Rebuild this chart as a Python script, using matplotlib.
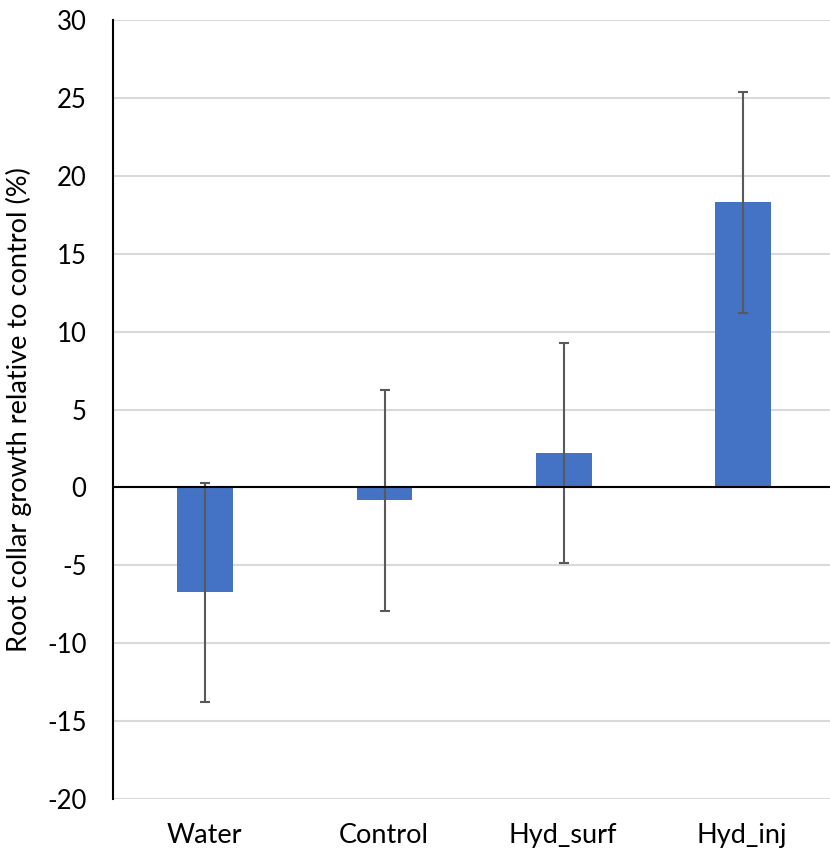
import numpy as np
import matplotlib.pyplot as plt

plt.rcParams['font.family'] = ['Lato', 'DejaVu Sans']
plt.rcParams['axes.unicode_minus'] = False

categories = ['Water', 'Control', 'Hyd_surf', 'Hyd_inj']
growth = [-6.74, -0.83, 2.2, 18.3]
errors = [7.05, 7.1, 7.07, 7.1]

fig = plt.figure(figsize=(8.3, 8.56), dpi=100)
ax = fig.add_axes([0.1361, 0.0666, 0.8639, 0.91])

x = np.arange(len(categories))
ax.bar(x + 0.005, growth, width=0.31, color='#4472C4', zorder=3)
ax.errorbar(x + 0.005, growth, yerr=errors, fmt='none', ecolor='#595959',
            elinewidth=1.5, capsize=3.8, capthick=1.5, zorder=4)
ax.axhline(0, color='black', linewidth=1.5, zorder=5)

ax.set_ylim(-20, 30)
ax.set_xlim(-0.51, 3.49)
ax.set_yticks(np.arange(-20, 31, 5))
ax.yaxis.grid(True, color='#D9D9D9', linewidth=1.5, zorder=0)
ax.set_axisbelow(True)
ax.set_xticks(x)
ax.set_xticklabels(categories)
ax.tick_params(axis='y', length=0, labelsize=18.5, pad=19)
ax.tick_params(axis='x', length=0, labelsize=19.5, pad=17)

for s in ['top', 'right', 'bottom']:
    ax.spines[s].set_visible(False)
ax.spines['left'].set_color('black')
ax.spines['left'].set_linewidth(1.5)

ax.set_ylabel('Root collar growth relative to control (%)', fontsize=19.5)
ax.yaxis.set_label_coords(-0.113, 0.5)

fig.savefig('out.png', dpi=100)
